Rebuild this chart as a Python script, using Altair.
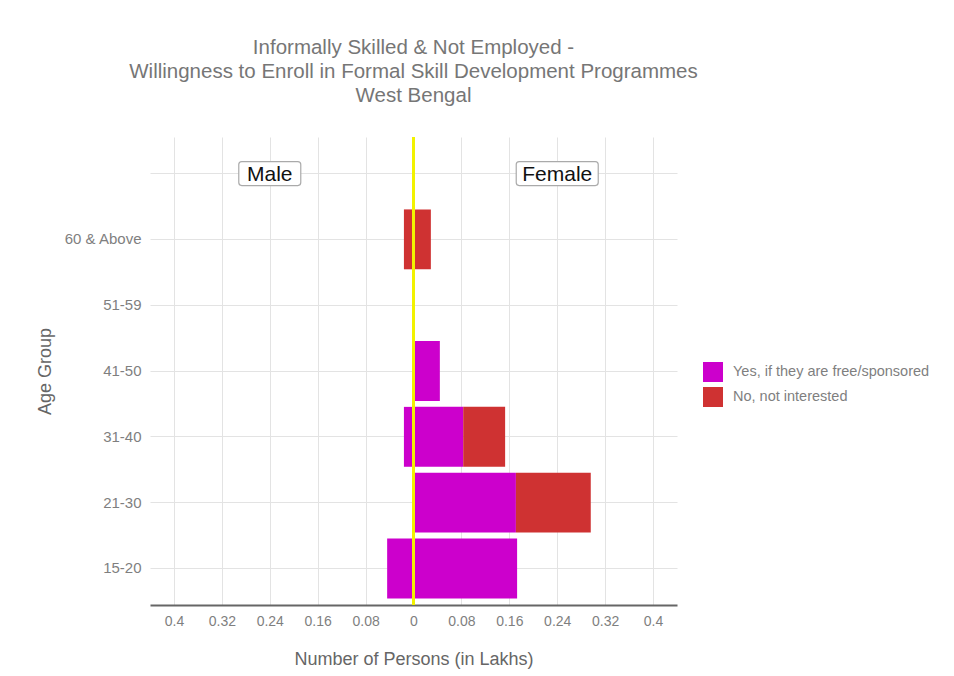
import altair as alt
import pandas as pd

# ---- data ----
age_groups = ["15-20", "21-30", "31-40", "41-50", "51-59", "60 & Above"]
responses = ["Yes, if they are free/sponsored", "No, not interested"]
male_yes = [0.044, 0.0, 0.016, 0.0, 0.0, 0.0]
male_no = [0.0, 0.0, 0.0, 0.0, 0.0, 0.016]
female_yes = [0.173, 0.171, 0.083, 0.044, 0.0, 0.0]
female_no = [0.0, 0.125, 0.070, 0.0, 0.0, 0.029]
sex_labels = ["Male", "Female"]
sex_label_x = [-0.24, 0.24]
x_ticks = [-0.4, -0.32, -0.24, -0.16, -0.08, 0, 0.08, 0.16, 0.24, 0.32, 0.4]
title_lines = [
    "Informally Skilled & Not Employed -",
    "Willingness to Enroll in Formal Skill Development Programmes",
    "West Bengal",
]

colors = ["#CC00CC", "#CF3232"]
top_row = " "
y_domain = [top_row] + age_groups[::-1]

rows = []
for i, age in enumerate(age_groups):
    for sex, yes, no, sign in (("Male", male_yes, male_no, -1), ("Female", female_yes, female_no, 1)):
        for r, (resp, vals) in enumerate(zip(responses, (yes, no))):
            if vals[i] > 0:
                rows.append({"age": age, "sex": sex, "response": resp,
                             "order": r, "value": sign * vals[i]})
df = pd.DataFrame(rows)

lab = pd.DataFrame({"sex": sex_labels, "x": sex_label_x, "age": [top_row, top_row]})

FONT = "Liberation Sans"

x_scale = alt.Scale(domain=[-0.44, 0.44], nice=False, zero=False)
y_scale = alt.Scale(domain=y_domain, paddingInner=0.09, paddingOuter=0.1)

bars = alt.Chart(df).mark_bar().encode(
    x=alt.X("value:Q", stack="zero", scale=x_scale,
            axis=alt.Axis(values=x_ticks, labelExpr="format(abs(datum.value), '.2~f')",
                          title="Number of Persons (in Lakhs)", grid=True, ticks=False,
                          domain=True, domainColor="#666666", domainWidth=2,
                          labelPadding=9, titlePadding=22, labelFlush=False)),
    y=alt.Y("age:N", scale=y_scale,
            axis=alt.Axis(title="Age Group", bandPosition=0.5, grid=True, ticks=False,
                          domain=False, labelPadding=9, titlePadding=9, labelFontSize=15)),
    color=alt.Color("response:N", scale=alt.Scale(domain=responses, range=colors),
                    legend=alt.Legend(title=None, orient="none", legendX=553, legendY=225,
                                      symbolType="square", symbolSize=400,
                                      symbolStrokeWidth=0, labelFontSize=14.5,
                                      labelColor="#7f7f7f", rowPadding=5, padding=0,
                                      labelOffset=10, labelLimit=0)),
    order=alt.Order("order:Q"),
)

zero_line = alt.Chart(pd.DataFrame({"x": [0]})).mark_rule(
    color="#F2F200", strokeWidth=3
).encode(x=alt.X("x:Q", scale=x_scale))

layers = [bars, zero_line]
for name, half in (("Male", 31), ("Female", 41)):
    sub = lab[lab["sex"] == name]
    box = alt.Chart(sub).mark_bar(
        height=24, fill="white", stroke="#aaaaaa", strokeWidth=1.2, cornerRadius=3,
        xOffset=-half, x2Offset=half
    ).encode(x=alt.X("x:Q", scale=x_scale), x2="x:Q", y=alt.Y("age:N", scale=y_scale))
    txt = alt.Chart(sub).mark_text(fontSize=21, color="#111111", font=FONT, dy=1).encode(
        x=alt.X("x:Q", scale=x_scale), y=alt.Y("age:N", scale=y_scale), text="sex:N")
    layers += [box, txt]

chart = alt.layer(*layers).properties(
    width=527, height=468,
    title=alt.Title(text=title_lines, fontSize=20.5, fontWeight="normal", color="#767676",
                    font=FONT, anchor="middle", offset=29, lineHeight=24),
    autosize=alt.AutoSizeParams(type="none"),
    padding={"left": 142, "top": 129, "right": 262, "bottom": 66},
).configure(font=FONT).configure_view(stroke=None).configure_axis(
    labelFont=FONT, titleFont=FONT, labelFontSize=14, titleFontSize=18,
    labelColor="#7f7f7f", titleColor="#666666", titleFontWeight="normal",
    gridColor="#e3e3e3", gridWidth=1
).configure_legend(labelFont=FONT)

chart.save("out.html", embed_options={"renderer": "svg", "actions": False})
